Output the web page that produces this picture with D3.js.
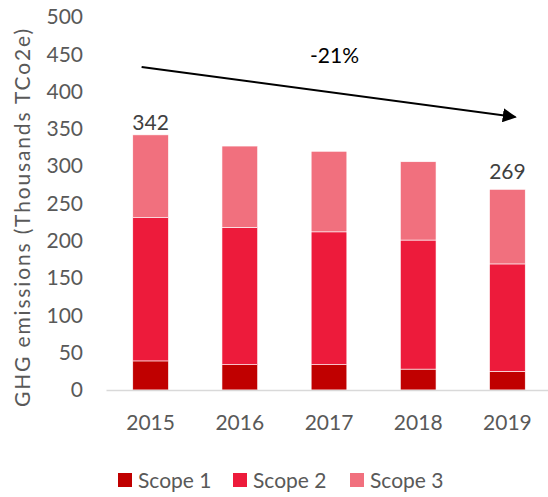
<!DOCTYPE html>
<html lang="en">
<head>
<meta charset="UTF-8">
<title>GHG emissions</title>
<script src="https://d3js.org/d3.v7.min.js"></script>
<style>
    body { margin: 0; background: #fff; }
    text { font-family: Lato, "Open Sans", sans-serif; }
</style>
</head>
<body>
<div id="chart"></div>
<script>
    // data
    const years = ["2015", "2016", "2017", "2018", "2019"];
    const scope1 = [39, 34, 34, 28, 25];
    const scope2 = [192, 184, 178, 173, 144];
    const scope3 = [111, 109, 108, 105, 100];
    const seriesNames = ["Scope 1", "Scope 2", "Scope 3"];
    const colors = ["#C00000", "#ED1B3B", "#F1707E"];
    const yTicks = [0, 50, 100, 150, 200, 250, 300, 350, 400, 450, 500];
    const totalLabels = [{ year: "2015", value: 342, dy: -5 }, { year: "2019", value: 269, dy: -10 }];
    const trend = { from: ["2015", 433], to: ["2019", 366], label: "-21%" };

    const W = 548, H = 497;
    const svg = d3.select("#chart").append("svg")
        .attr("width", W)
        .attr("height", H);

    const x = d3.scaleBand()
        .domain(years)
        .range([106, 552])
        .paddingInner(0.6)
        .paddingOuter(0.3);

    const y = d3.scaleLinear()
        .domain([0, 500])
        .range([390, 17]);

    const table = years.map((yr, i) => ({ year: yr, "Scope 1": scope1[i], "Scope 2": scope2[i], "Scope 3": scope3[i] }));
    const stacked = d3.stack().keys(seriesNames)(table);

    // y axis (labels only)
    const yAxis = svg.append("g")
        .attr("transform", "translate(86,0)")
        .call(d3.axisLeft(y).tickValues(yTicks).tickSize(0).tickPadding(3));
    yAxis.select(".domain").remove();
    yAxis.selectAll("text")
        .attr("fill", "#595959")
        .style("font-size", "21px");

    // bars
    svg.append("g")
        .selectAll("g")
        .data(stacked)
        .join("g")
        .attr("fill", (d, i) => colors[i])
        .selectAll("rect")
        .data(d => d)
        .join("rect")
        .attr("x", d => x(d.data.year))
        .attr("y", d => y(d[1]))
        .attr("width", x.bandwidth())
        .attr("height", d => y(d[0]) - y(d[1]))
        .attr("stroke", "#fff")
        .attr("stroke-width", 0.6);

    // x axis
    const xAxis = svg.append("g")
        .attr("transform", "translate(0,390)")
        .call(d3.axisBottom(x).tickSize(0).tickPadding(25));
    xAxis.select(".domain")
        .attr("stroke", "#d9d9d9")
        .attr("stroke-width", 1.5);
    xAxis.selectAll("text")
        .attr("fill", "#595959")
        .style("font-size", "21px");

    // y axis title
    svg.append("text")
        .attr("transform", "translate(30,218) rotate(-90)")
        .attr("text-anchor", "middle")
        .attr("fill", "#595959")
        .style("font-size", "21px")
        .attr("textLength", 378)
        .attr("lengthAdjust", "spacing")
        .text("GHG emissions  (Thousands TCo2e)");

    // total labels
    svg.append("g")
        .selectAll("text")
        .data(totalLabels)
        .join("text")
        .attr("x", d => x(d.year) + x.bandwidth() / 2)
        .attr("y", d => y(d.value) + d.dy)
        .attr("text-anchor", "middle")
        .attr("fill", "#404040")
        .style("font-size", "21px")
        .text(d => d.value);

    // trend arrow
    svg.append("defs").append("marker")
        .attr("id", "arrow")
        .attr("viewBox", "0 0 10 10")
        .attr("refX", 9)
        .attr("refY", 5)
        .attr("markerWidth", 7)
        .attr("markerHeight", 7)
        .attr("markerUnits", "strokeWidth")
        .attr("orient", "auto")
        .append("path")
        .attr("d", "M0,0 L10,5 L0,10 z")
        .attr("fill", "#000");

    const x1 = x(trend.from[0]) + x.bandwidth() / 2 - 9;
    const x2 = x(trend.to[0]) + x.bandwidth() / 2 + 8;
    svg.append("line")
        .attr("x1", x1)
        .attr("y1", y(trend.from[1]))
        .attr("x2", x2)
        .attr("y2", y(trend.to[1]))
        .attr("stroke", "#000")
        .attr("stroke-width", 2)
        .attr("marker-end", "url(#arrow)");

    svg.append("text")
        .attr("x", (x1 + x2) / 2 + 6)
        .attr("y", 63)
        .attr("text-anchor", "middle")
        .attr("fill", "#000")
        .style("font-size", "21px")
        .text(trend.label);

    // legend
    const legendX = [118, 233, 350];
    const legend = svg.append("g")
        .selectAll("g")
        .data(seriesNames)
        .join("g")
        .attr("transform", (d, i) => `translate(${legendX[i]},473)`);
    legend.append("rect")
        .attr("width", 14)
        .attr("height", 14)
        .attr("fill", (d, i) => colors[i]);
    legend.append("text")
        .attr("x", 20)
        .attr("y", 15)
        .attr("fill", "#595959")
        .style("font-size", "21px")
        .text(d => d);
</script>
</body>
</html>
